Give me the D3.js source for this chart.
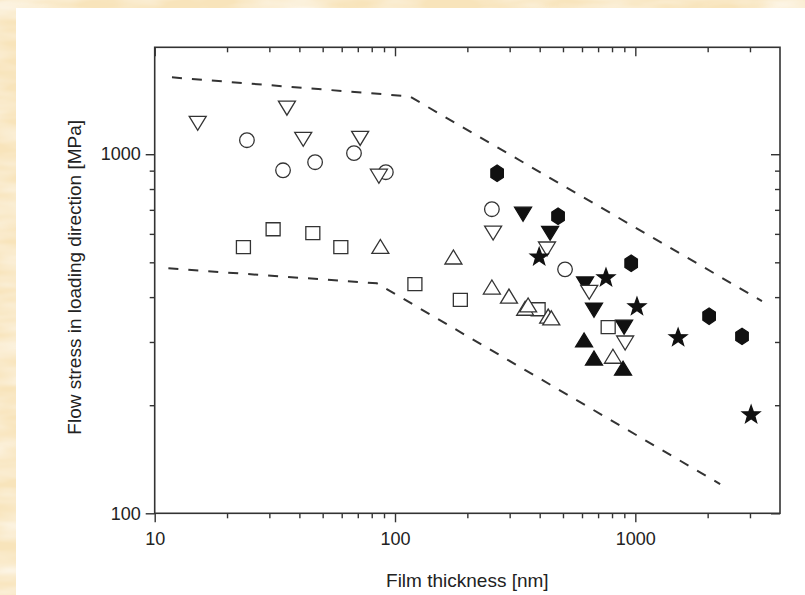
<!DOCTYPE html>
<html>
<head>
<meta charset="utf-8">
<script src="https://cdn.jsdelivr.net/npm/d3@7"></script>
<style>
    html, body { margin: 0; padding: 0; background: #f9e7c2; }
    svg { display: block; }
    text { font-family: 'Liberation Sans', Arial, sans-serif; fill: #222; }
</style>
</head>
<body>
<div id="wrapper"></div>
<script>
// ---- data (film thickness in nm, flow stress in MPa) ----
const openCircleX = [24.2, 34.2, 46.5, 67.5, 91.6, 253, 510];
const openCircleY = [1094, 902, 950, 1007, 891, 703, 478];

const openDownX = [15.1, 35.5, 41.5, 71.6, 85.7, 256, 429, 643, 907];
const openDownY = [1227, 1352, 1107, 1114, 874, 607, 548, 415, 300];

const openUpX = [86.9, 175, 253, 298, 348, 358, 434, 447, 807];
const openUpY = [550, 514, 424, 400, 370, 378, 352, 348, 272];

const openSquareX = [23.4, 31.1, 45.5, 59.5, 121, 187, 394, 771];
const openSquareY = [551, 618, 603, 551, 435, 393, 370, 330];

const filledDownX = [341, 442, 618, 673, 898];
const filledDownY = [685, 606, 438, 370, 332];

const filledUpX = [612, 673, 889];
const filledUpY = [302, 269, 252];

const hexagonX = [266, 477, 961, 2028, 2780];
const hexagonY = [885, 672, 497, 354, 311];

const starX = [398, 755, 1016, 1507, 3033];
const starY = [520, 455, 378, 310, 189];

// dashed bounds
const upperBoundX = [11.8, 115, 3365];
const upperBoundY = [1637, 1449, 390];
const lowerBoundX = [11.4, 84.1, 2254];
const lowerBoundY = [481, 437, 120.6];

// ticks
const xMajorTicks = [10, 100, 1000];
const xMinorTicks = [20, 30, 40, 50, 60, 70, 80, 90, 200, 300, 400, 500, 600, 700, 800, 900, 2000, 3000];
const yMajorTicks = [100, 1000];
const yMinorTicks = [200, 300, 400, 500, 600, 700, 800, 900];

const xLabel = "Film thickness [nm]";
const yLabel = "Flow stress in loading direction [MPa]";

function draw() {
    const width = 805;
    const height = 595;
    const margin = { top: 47.3, right: 25, bottom: 81.7, left: 154.7 };
    const boundedWidth = width - margin.left - margin.right;
    const boundedHeight = height - margin.top - margin.bottom;

    const svg = d3.select("#wrapper").append("svg")
        .attr("width", width)
        .attr("height", height);

    // parchment background + white panel
    const defs = svg.append("defs");
    const filter = defs.append("filter").attr("id", "paper")
        .attr("x", 0).attr("y", 0).attr("width", "100%").attr("height", "100%");
    filter.append("feTurbulence")
        .attr("type", "fractalNoise")
        .attr("baseFrequency", "0.012 0.05")
        .attr("numOctaves", 3)
        .attr("seed", 4);
    filter.append("feColorMatrix")
        .attr("type", "matrix")
        .attr("values", "0 0 0 0 1  0 0 0 0 1  0 0 0 0 1  1.3 0 0 0 -0.45");
    svg.append("rect").attr("width", width).attr("height", height).attr("fill", "#f8e4bb");
    svg.append("rect").attr("width", width).attr("height", height).attr("filter", "url(#paper)");
    svg.append("rect")
        .attr("x", 16).attr("y", 8)
        .attr("width", width - 16).attr("height", height - 8)
        .attr("fill", "#ffffff");

    // scales
    const xScale = d3.scaleLog().domain([10, 4000]).range([0, boundedWidth]);
    const yScale = d3.scaleLog().domain([100, 1985]).range([boundedHeight, 0]);

    const bounds = svg.append("g")
        .attr("transform", `translate(${margin.left},${margin.top})`);

    // axes
    const axisColor = "#333";
    const fmt = d3.format("d");
    const addAxis = (axis, transform, cls) => {
        const g = bounds.append("g").attr("class", cls).attr("transform", transform).call(axis);
        g.select(".domain").remove();
        g.selectAll(".tick line").attr("stroke", axisColor).attr("stroke-width", 1.4);
        g.selectAll(".tick text")
            .attr("fill", "#1d1d2b")
            .style("font-size", "18px")
            .style("font-family", "'Liberation Sans', Arial, sans-serif");
        return g;
    };
    addAxis(d3.axisBottom(xScale).tickValues(xMajorTicks).tickSize(9).tickPadding(10).tickFormat(fmt),
        `translate(0,${boundedHeight})`, "x-major");
    addAxis(d3.axisBottom(xScale).tickValues(xMinorTicks).tickSize(5).tickFormat(""),
        `translate(0,${boundedHeight})`, "x-minor");
    addAxis(d3.axisTop(xScale).tickValues(xMajorTicks).tickSize(-9).tickFormat(""), null, "x-top-major");
    addAxis(d3.axisTop(xScale).tickValues(xMinorTicks).tickSize(-5).tickFormat(""), null, "x-top-minor");
    addAxis(d3.axisLeft(yScale).tickValues(yMajorTicks).tickSize(9).tickPadding(5).tickFormat(fmt), null, "y-major");
    addAxis(d3.axisLeft(yScale).tickValues(yMinorTicks).tickSize(5).tickFormat(""), null, "y-minor");
    addAxis(d3.axisRight(yScale).tickValues(yMajorTicks).tickSize(-9).tickFormat(""),
        `translate(${boundedWidth},0)`, "y-right-major");
    addAxis(d3.axisRight(yScale).tickValues(yMinorTicks).tickSize(-5).tickFormat(""),
        `translate(${boundedWidth},0)`, "y-right-minor");

    bounds.append("rect")
        .attr("width", boundedWidth)
        .attr("height", boundedHeight)
        .attr("fill", "none")
        .attr("stroke", axisColor)
        .attr("stroke-width", 1.6);

    // dashed bounds
    const lineGen = d3.line()
        .x(d => xScale(d[0]))
        .y(d => yScale(d[1]));
    [[upperBoundX, upperBoundY], [lowerBoundX, lowerBoundY]].forEach(([xs, ys]) => {
        bounds.append("path")
            .attr("d", lineGen(d3.zip(xs, ys)))
            .attr("fill", "none")
            .attr("stroke", "#333")
            .attr("stroke-width", 2)
            .attr("stroke-dasharray", "10,10");
    });

    // marker shapes
    const shapes = {
        circle: () => "M7.3,0A7.3,7.3,0,1,1,-7.3,0A7.3,7.3,0,1,1,7.3,0Z",
        square: () => "M-7,-6.5H7V6.5H-7Z",
        down: () => "M-8.5,-6L8.5,-6L0,8Z",
        up: () => "M-8.5,6L8.5,6L0,-8Z",
        hexagon: () => {
            const pts = d3.range(6).map(i => {
                const a = Math.PI / 2 + i * Math.PI / 3;
                return [7.2 * Math.cos(a), 8.2 * Math.sin(a)];
            });
            return "M" + pts.map(p => p.join(",")).join("L") + "Z";
        },
        star: () => {
            const pts = d3.range(10).map(i => {
                const r = i % 2 === 0 ? 9.3 : 3.8;
                const a = -Math.PI / 2 + i * Math.PI / 5;
                return [r * Math.cos(a), r * Math.sin(a) + 0.8];
            });
            return "M" + pts.map(p => p.join(",")).join("L") + "Z";
        }
    };

    const series = [
        { xs: filledDownX, ys: filledDownY, shape: "down", filled: true },
        { xs: openSquareX, ys: openSquareY, shape: "square", filled: false },
        { xs: openCircleX, ys: openCircleY, shape: "circle", filled: false },
        { xs: openDownX, ys: openDownY, shape: "down", filled: false },
        { xs: openUpX, ys: openUpY, shape: "up", filled: false },
        { xs: filledUpX, ys: filledUpY, shape: "up", filled: true },
        { xs: hexagonX, ys: hexagonY, shape: "hexagon", filled: true },
        { xs: starX, ys: starY, shape: "star", filled: true },
    ];

    series.forEach(s => {
        bounds.append("g").selectAll("path")
            .data(d3.zip(s.xs, s.ys))
            .enter()
            .append("path")
            .attr("d", shapes[s.shape]())
            .attr("transform", d => `translate(${xScale(d[0])},${yScale(d[1])})`)
            .attr("fill", s.filled ? "#111" : "#fff")
            .attr("stroke", s.filled ? "#111" : "#333")
            .attr("stroke-width", 1.3)
            .attr("stroke-linejoin", "miter");
    });

    // axis titles
    svg.append("text")
        .attr("x", margin.left + boundedWidth / 2)
        .attr("y", 587)
        .attr("text-anchor", "middle")
        .style("font-size", "19px")
        .text(xLabel);
    svg.append("text")
        .attr("transform", `translate(81,${margin.top + boundedHeight / 2 - 3}) rotate(-90)`)
        .attr("text-anchor", "middle")
        .style("font-size", "19px")
        .text(yLabel);
}

draw();
</script>
</body>
</html>
